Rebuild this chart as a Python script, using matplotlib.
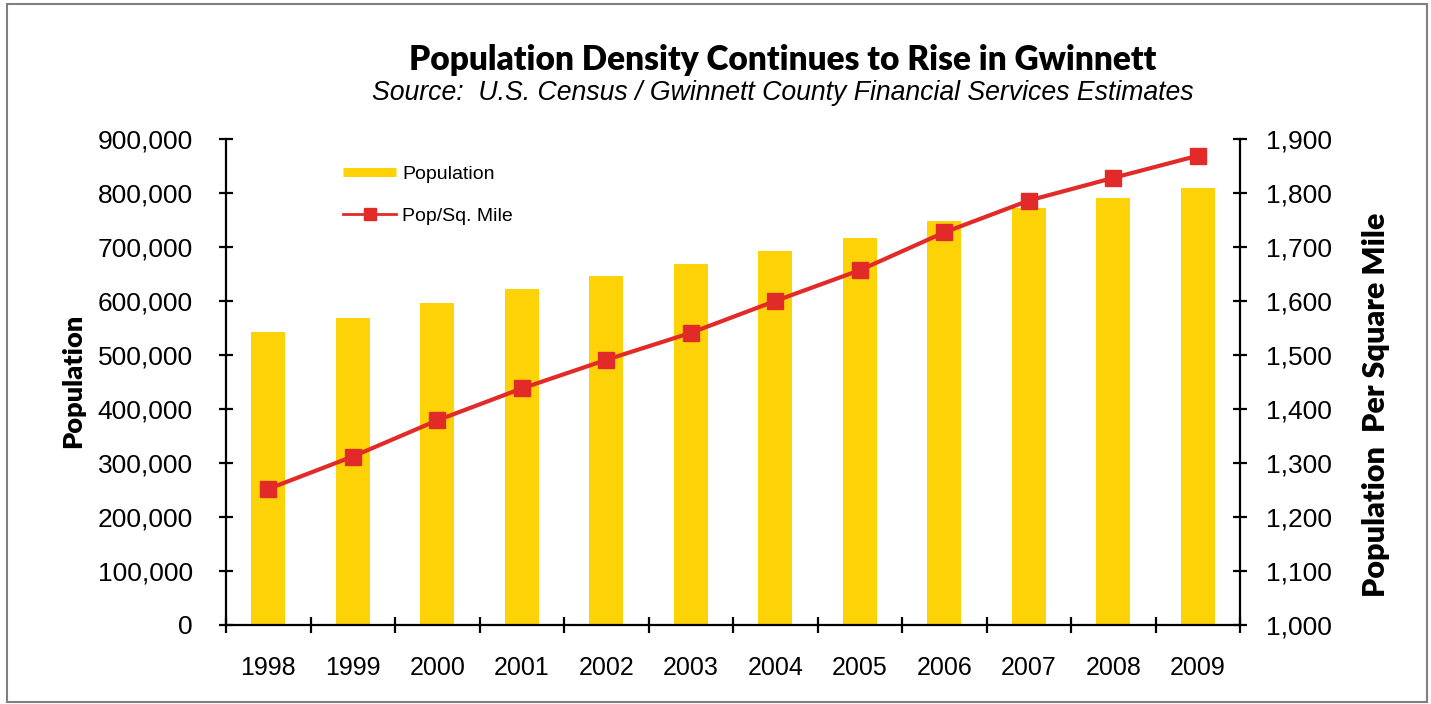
import matplotlib
matplotlib.use("Agg")
import matplotlib.pyplot as plt
from matplotlib.lines import Line2D
from matplotlib.patches import Rectangle
from matplotlib.ticker import FuncFormatter, FixedLocator
import numpy as np

# Gwinnett County population and density by year
years = ["1998", "1999", "2000", "2001", "2002", "2003",
         "2004", "2005", "2006", "2007", "2008", "2009"]
population = [543000, 569000, 597000, 623000, 646000, 668000,
              693000, 717000, 749000, 773000, 791000, 809000]
pop_per_sq_mile = [1252, 1312, 1379, 1438, 1491, 1541,
                   1600, 1657, 1727, 1786, 1828, 1869]

left_ticks = list(range(0, 900001, 100000))
right_ticks = list(range(1000, 1901, 100))

BAR = "#FDD308"
RED = "#E22B28"
SANS = ["Liberation Sans", "DejaVu Sans"]
TITLE_FONT = ["Lato", "DejaVu Sans"]

plt.rcParams["font.family"] = SANS

W, H = 1431, 704
fig = plt.figure(figsize=(W / 100, H / 100), dpi=100)

ax = fig.add_axes([226 / W, 1 - 625 / H, (1240 - 226) / W, (625 - 139) / H])
ax2 = ax.twinx()

x = np.arange(len(years))
ax.bar(x, population, width=0.4, color=BAR, zorder=2)
ax2.plot(x, pop_per_sq_mile, color=RED, lw=3.0, marker="s", ms=11,
         mec=RED, mfc=RED, zorder=3)

ax.set_xlim(-0.5, len(years) - 0.5)
ax.set_ylim(0, 900000)
ax2.set_ylim(1000, 1900)

# category boundaries carry the tick marks, centres carry the labels
ax.xaxis.set_major_locator(FixedLocator(np.arange(-0.5, len(years), 1.0)))
ax.xaxis.set_minor_locator(FixedLocator(x))
ax.set_xticklabels([""] * (len(years) + 1))
ax.set_xticklabels(years, minor=True)
ax.tick_params(axis="x", which="major", direction="inout", length=11, width=1.6,
               color="black")
ax.tick_params(axis="x", which="minor", length=0, pad=22, labelsize=18)

ax.set_yticks(left_ticks)
ax.yaxis.set_major_formatter(FuncFormatter(lambda v, p: f"{int(v):,}"))
ax.tick_params(axis="y", direction="inout", length=10, width=1.6,
               labelsize=19, pad=19)

ax2.set_yticks(right_ticks)
ax2.yaxis.set_major_formatter(FuncFormatter(lambda v, p: f"{int(v):,}"))
ax2.tick_params(axis="y", direction="inout", length=10, width=1.6,
                labelsize=19, pad=14)

for a in (ax, ax2):
    a.spines["top"].set_visible(False)
    for s in ("left", "right", "bottom"):
        a.spines[s].set_linewidth(1.6)
        a.spines[s].set_color("black")
ax2.spines["left"].set_visible(False)
ax2.spines["bottom"].set_visible(False)
ax.spines["right"].set_visible(False)

# legend
handles = [
    Line2D([], [], color=BAR, lw=6.5, solid_capstyle="butt"),
    Line2D([], [], color=RED, lw=2.0, marker="s", ms=8.5, mec=RED, mfc=RED),
]
leg = ax.legend(handles, ["Population", "Pop/Sq. Mile"], loc="upper left",
                bbox_to_anchor=(343 / W, 1 - 165 / H),
                bbox_transform=fig.transFigure, frameon=False, fontsize=14,
                handlelength=2.75, handletextpad=0.3, labelspacing=1.25,
                borderpad=0, borderaxespad=0)

# titles
fig.text(783 / W, 1 - 60 / H, "Population Density Continues to Rise in Gwinnett",
         ha="center", va="center", fontsize=24, fontweight="heavy",
         family=TITLE_FONT)
fig.text(783 / W, 1 - 93 / H,
         "Source:  U.S. Census / Gwinnett County Financial Services Estimates",
         ha="center", va="center", fontsize=19.2, style="italic")

# axis titles
fig.text(73 / W, 1 - 381 / H, "Population", rotation=90, ha="center",
         va="center", fontsize=19.5, fontweight="heavy", family=TITLE_FONT)
fig.text(1376 / W, 1 - 405 / H, "Population  Per Square Mile", rotation=90,
         ha="center", va="center", fontsize=22, fontweight="heavy",
         family=TITLE_FONT)

# outer frame
fig.patches.append(Rectangle((7 / W, 1 - 702 / H), (1427 - 7) / W, (702 - 4) / H,
                             transform=fig.transFigure, fill=False,
                             edgecolor="#808080", lw=1.5))

fig.savefig("out.png", dpi=100)
